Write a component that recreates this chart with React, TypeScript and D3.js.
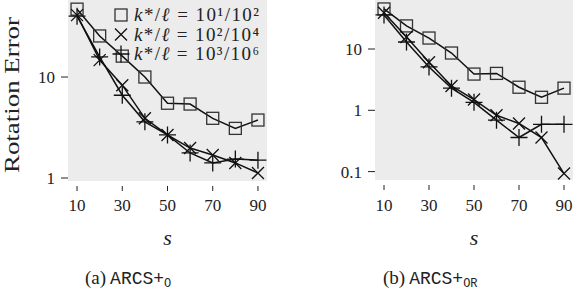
import * as d3 from "d3";

const S = [10, 20, 30, 40, 50, 60, 70, 80, 90];
const X_TICKS = [10, 30, 50, 70, 90];

// panel (a) ARCS+O
const A_SQ = [47, 25.5, 16.1, 10, 5.5, 5.4, 3.9, 3.1, 3.75];
const A_X = [41, 14.7, 8.3, 3.9, 2.67, 1.98, 1.69, 1.41, 1.12];
const A_PLUS = [40, 15.8, 6.6, 3.6, 2.67, 1.77, 1.41, 1.54, 1.5];
const A_Y_TICKS = [1, 10];

// panel (b) ARCS+OR
const B_SQ = [45, 23.8, 15.1, 8.6, 3.9, 4.0, 2.38, 1.63, 2.3];
const B_X = [39, 15.7, 6.1, 2.5, 1.5, 0.83, 0.61, 0.36, 0.093];
const B_PLUS = [36, 13, 5.1, 2.3, 1.35, 0.69, 0.36, 0.59, 0.59];
const B_Y_TICKS = [0.1, 1, 10];

const SERIF = "'Liberation Serif', 'Times New Roman', serif";
const MONO = "'Liberation Mono', 'DejaVu Sans Mono', monospace";

type Marker = "square" | "x" | "plus";

function MarkerShape({ kind, cx, cy }: { kind: Marker; cx: number; cy: number }) {
  if (kind === "square") {
    const h = 6;
    return <rect x={cx - h} y={cy - h} width={2 * h} height={2 * h} fill="none" stroke="#333" strokeWidth={1.3} />;
  }
  if (kind === "x") {
    const h = 6;
    return (
      <path
        d={`M${cx - h},${cy - h}L${cx + h},${cy + h}M${cx - h},${cy + h}L${cx + h},${cy - h}`}
        stroke="#111"
        strokeWidth={1.3}
      />
    );
  }
  const h = 8.5;
  return <path d={`M${cx - h},${cy}L${cx + h},${cy}M${cx},${cy - h}L${cx},${cy + h}`} stroke="#111" strokeWidth={1.3} />;
}

type PanelProps = {
  left: number;
  right: number;
  bottom: number;
  yDomain: [number, number];
  yTicks: number[];
  series: { values: number[]; marker: Marker }[];
  tickFmt: (v: number) => string;
};

function Panel({ left, right, bottom, yDomain, yTicks, series, tickFmt }: PanelProps) {
  const x = d3.scaleLinear().domain([6, 94]).range([left, right]);
  const y = d3.scaleLog().domain(yDomain).range([bottom, 0]);
  const line = d3
    .line<number>()
    .x((_, i) => x(S[i]))
    .y((v) => y(v));

  return (
    <g>
      <rect x={left} y={0} width={right - left} height={bottom} fill="#ececec" />
      {yTicks.map((t) => (
        <g key={`y${t}`}>
          <line x1={left - 7} x2={left} y1={y(t)} y2={y(t)} stroke="#222" strokeWidth={1} />
          <text x={left - 13} y={y(t) + 6} textAnchor="end" fontFamily={SERIF} fontSize={17} fill="#222">
            {tickFmt(t)}
          </text>
        </g>
      ))}
      {X_TICKS.map((t) => (
        <g key={`x${t}`}>
          <line x1={x(t)} x2={x(t)} y1={bottom + 5} y2={bottom + 10} stroke="#222" strokeWidth={1} />
          <text x={x(t)} y={211} textAnchor="middle" fontFamily={SERIF} fontSize={17} fill="#222">
            {t}
          </text>
        </g>
      ))}
      {series.map((s, k) => (
        <g key={k}>
          <path d={line(s.values) ?? ""} fill="none" stroke="#111" strokeWidth={1.5} />
          {s.values.map((v, i) => (
            <MarkerShape key={i} kind={s.marker} cx={x(S[i])} cy={y(v)} />
          ))}
        </g>
      ))}
      <text
        x={(x(10) + x(90)) / 2}
        y={245}
        textAnchor="middle"
        fontFamily={SERIF}
        fontStyle="italic"
        fontSize={22}
        fill="#222"
      >
        s
      </text>
    </g>
  );
}

const LEGEND_MARKERS: Marker[] = ["square", "x", "plus"];
const LEGEND_LABELS = ["10¹/10²", "10²/10⁴", "10³/10⁶"];

export default function App() {
  const fmt = (v: number) => (v >= 1 ? d3.format("d")(v) : String(v));
  return (
    <svg width={574} height={296} style={{ position: "absolute", left: 0, top: 0, background: "#fff" }}>
      <text
        transform="translate(19,95) rotate(-90)"
        textAnchor="middle"
        fontFamily={SERIF}
        fontSize={21}
        textLength={156}
        lengthAdjust="spacingAndGlyphs"
        fill="#222"
      >
        Rotation Error
      </text>
      <Panel
        left={68}
        right={267}
        bottom={181}
        yDomain={[0.934, 57.9]}
        yTicks={A_Y_TICKS}
        tickFmt={fmt}
        series={[
          { values: A_SQ, marker: "square" },
          { values: A_X, marker: "x" },
          { values: A_PLUS, marker: "plus" },
        ]}
      />
      <Panel
        left={375}
        right={573}
        bottom={180}
        yDomain={[0.073, 63]}
        yTicks={B_Y_TICKS}
        tickFmt={fmt}
        series={[
          { values: B_SQ, marker: "square" },
          { values: B_X, marker: "x" },
          { values: B_PLUS, marker: "plus" },
        ]}
      />
      {LEGEND_MARKERS.map((m, i) => (
        <g key={i}>
          <MarkerShape kind={m} cx={121} cy={15 + i * 19.5} />
          <text x={134} y={21 + i * 19.5} fontFamily={SERIF} fontSize={19} fill="#222" textLength={125} lengthAdjust="spacing">
            <tspan fontStyle="italic">k</tspan>*/<tspan fontStyle="italic">ℓ</tspan> = {LEGEND_LABELS[i]}
          </text>
        </g>
      ))}
      <text x={85} y={284} fontFamily={SERIF} fontSize={19} fill="#222">
        (a)
        <tspan fontFamily={MONO} fontSize={18} dx={4}>ARCS+</tspan>
        <tspan fontFamily={MONO} fontSize={12} dy={3}>O</tspan>
      </text>
      <text x={383} y={284} fontFamily={SERIF} fontSize={19} fill="#222">
        (b)
        <tspan fontFamily={MONO} fontSize={18} dx={4}>ARCS+</tspan>
        <tspan fontFamily={MONO} fontSize={12} dy={3}>OR</tspan>
      </text>
    </svg>
  );
}
